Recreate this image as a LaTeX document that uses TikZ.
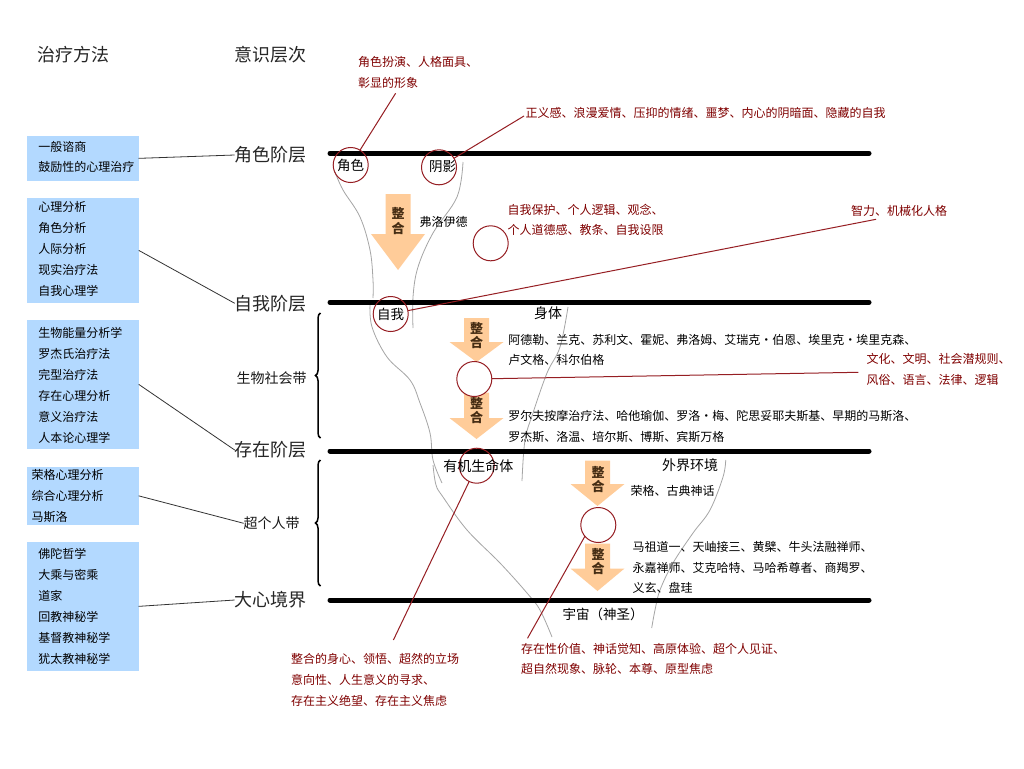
\documentclass[tikz,border=0pt]{standalone}
\usepackage{fontspec}
\setmainfont{Noto Sans CJK SC}
\usetikzlibrary{decorations.pathreplacing}
\definecolor{boxblue}{RGB}{179,217,255}
\definecolor{dred}{RGB}{128,0,0}
\definecolor{lred}{RGB}{150,30,35}
\definecolor{peach}{RGB}{255,204,153}
\definecolor{curvegray}{RGB}{165,165,165}
\definecolor{zhcol}{RGB}{70,45,20}
\newcommand{\zhArrow}[4]{\fill[peach] (#1-12.5,#2) -- (#1+12.5,#2) -- (#1+12.5,#3) -- (#1+27,#3) -- (#1,#4) -- (#1-27,#3) -- (#1-12.5,#3) -- cycle;}
\tikzset{
  every node/.style={inner sep=0pt, outer sep=0pt},
  head/.style={font=\fontsize{18pt}{22pt}\selectfont, text=black!85},
  band/.style={font=\fontsize{14pt}{17pt}\selectfont, text=black!90},
  boxbg/.style={fill=boxblue, draw=none, minimum width=111.4pt, anchor=north west},
  boxtxt/.style={anchor=west, align=left, font=\fontsize{12pt}{21pt}\selectfont},
  body/.style={anchor=west, align=left, font=\fontsize{12pt}{20.5pt}\selectfont},
  redtxt/.style={anchor=west, align=left, text=dred, font=\fontsize{12pt}{20.7pt}\selectfont},
  circ/.style={circle, draw=lred, line width=1pt, minimum size=35pt, font=\fontsize{13.5pt}{16pt}\selectfont},
  lbl/.style={font=\fontsize{14pt}{17pt}\selectfont},
  lblsm/.style={font=\fontsize{13.5pt}{16pt}\selectfont},
  zh/.style={align=center, font=\bfseries\fontsize{13pt}{14pt}\selectfont, text=zhcol},
  bar/.style={line width=5pt, line cap=round},
  conn/.style={draw=black!80, line width=0.8pt},
  redline/.style={draw=lred, line width=1pt},
  curve/.style={draw=curvegray, line width=0.8pt},
  brc/.style={decorate, decoration={brace, amplitude=5pt}, line width=1.5pt}
}
\begin{document}
\begin{tikzpicture}[x=1pt,y=-1pt]
\useasboundingbox (0,0) rectangle (1024,768);
\fill[white] (0,0) rectangle (1024,768);

% headings
\node[head] (hT) at (73,55) {治疗方法};
\node[head] (hC) at (270.7,55) {意识层次};
\node[head] (h1) at (270.7,155) {角色阶层};
\node[head] (h2) at (270.7,303.3) {自我阶层};
\node[head] (h3) at (270.7,450) {存在阶层};
\node[head] (h4) at (270.7,600) {大心境界};
\node[band] (bd1) at (271.7,377.7) {生物社会带};
\node[band] (bd2) at (271.7,523.3) {超个人带};

% boxes
\node[boxbg, minimum height=44.7pt] (b1) at (27.3,136) {};
\node[boxtxt, font=\fontsize{12pt}{20pt}\selectfont] (b1t) at (38.3,156.7) {一般谘商\\鼓励性的心理治疗};
\node[boxbg, minimum height=104.7pt] (b2) at (27.3,198) {};
\node[boxtxt] (b2t) at (38.3,249.2) {心理分析\\角色分析\\人际分析\\现实治疗法\\自我心理学};
\node[boxbg, minimum height=128.7pt] (b3) at (27.3,320) {};
\node[boxtxt] (b3t) at (38.3,385.5) {生物能量分析学\\罗杰氏治疗法\\完型治疗法\\存在心理分析\\意义治疗法\\人本论心理学};
\node[boxbg, minimum height=57.7pt] (b4) at (27.3,467) {};
\node[boxtxt, font=\fontsize{12pt}{20.7pt}\selectfont] (b4t) at (31.7,496) {荣格心理分析\\综合心理分析\\马斯洛};
\node[boxbg, minimum height=128.7pt] (b5) at (27.3,542) {};
\node[boxtxt] (b5t) at (38.3,606.3) {佛陀哲学\\大乘与密乘\\道家\\回教神秘学\\基督教神秘学\\犹太教神秘学};

\draw[conn] (b1.east) -- (h1.west);
\draw[conn] (b2.east) -- (h2.west);
\draw[conn] (b3.east) -- (h3.west);
\draw[conn] (b4.east) -- (bd2.west);
\draw[conn] (b5.east) -- (h4.west);

% braces
\draw[brc] (320.5,438) -- (320.5,313);
\draw[brc] (320.5,586) -- (320.5,460);

% gray curves
\draw[curve] plot[smooth, tension=0.6] coordinates {(335,172) (343,190) (360,217) (370,250) (373,280) (373,298)};
\draw[curve] plot[smooth, tension=0.6] coordinates {(463,162) (457,197) (433,233) (418,267) (413,297) (413,328)};
\draw[curve] plot[smooth, tension=0.6] coordinates {(370,303) (372,327) (387,357) (410,380) (420,403) (430,433) (433,460) (442,483)};
\draw[curve] plot[smooth, tension=0.6] coordinates {(568,307) (560,347) (547,373) (533,413) (525,440) (522,481)};
\draw[curve] plot[smooth, tension=0.6] coordinates {(433,465) (436,485) (443,497) (467,530) (500,563) (527,593) (540,610) (552,637)};
\draw[curve] plot[smooth, tension=0.6] coordinates {(725.7,460) (723,477) (710,510) (693,533) (673,563) (660,590) (655,610) (651.7,628)};

% thick level lines
\draw[bar] (330,153.3) -- (869,153.3);
\draw[bar] (330,302.3) -- (869,302.3);
\draw[bar] (330,451) -- (869,451);
\draw[bar] (330,600) -- (869,600);

% integration arrows
\zhArrow{398}{194}{234}{270}
\zhArrow{476.5}{318}{342}{362}
\zhArrow{476.5}{392.5}{418}{439}
\zhArrow{597.5}{460.5}{484}{506}
\zhArrow{597.5}{543.5}{568.5}{591}
\node[zh, font=\bfseries\fontsize{13pt}{15pt}\selectfont] (z1) at (398,220.8) {整\\合};
\node[zh] (z2) at (476.5,336) {整\\合};
\node[zh] (z3) at (476.5,411) {整\\合};
\node[zh] (z4) at (598,479.5) {整\\合};
\node[zh] (z5) at (598,562) {整\\合};

% circles
\node[circ] (cJ) at (350.7,165) {角色};
\node[circ] (cY) at (439,167.3) {};
\node[lblsm] (cYt) at (442.7,166.7) {阴影};
\node[circ] (cU) at (490.7,243.3) {};
\node[circ] (cZ) at (390.7,314) {自我};
\node[circ, fill=white] (cM) at (474.3,379) {};
\node[circ] (cO) at (476.7,465.7) {};
\node[lbl] (cOt) at (478.3,465.7) {有机生命体};
\node[circ] (cL) at (598.3,525) {};

% other labels
\node[lbl] (sT) at (548,313) {身体};
\node[lbl] (wJ) at (690,465) {外界环境};
\node[lblsm, anchor=west] (yZ) at (562.7,614) {宇宙（神圣）};

% black body texts
\node[body] (fl) at (419.6,221.7) {弗洛伊德};
\node[body] (adl) at (508.4,349.7) {阿德勒、兰克、苏利文、霍妮、弗洛姆、艾瑞克・伯恩、埃里克・埃里克森、\\卢文格、科尔伯格};
\node[body] (rolf) at (508.4,426.7) {罗尔夫按摩治疗法、哈他瑜伽、罗洛・梅、陀思妥耶夫斯基、早期的马斯洛、\\罗杰斯、洛温、培尔斯、博斯、宾斯万格};
\node[body] (rg) at (630.7,490.7) {荣格、古典神话};
\node[body] (mz) at (632.7,567.5) {马祖道一、天岫接三、黄檗、牛头法融禅师、\\永嘉禅师、艾克哈特、马哈希尊者、商羯罗、\\义玄、盘珪};

% red texts
\node[redtxt] (r1) at (358,72.2) {角色扮演、人格面具、\\彰显的形象};
\node[redtxt] (r2) at (525.5,113.3) {正义感、浪漫爱情、压抑的情绪、噩梦、内心的阴暗面、隐藏的自我};
\node[redtxt] (r3) at (507.5,220) {自我保护、个人逻辑、观念、\\个人道德感、教条、自我设限};
\node[redtxt] (r4) at (851,210.7) {智力、机械化人格};
\node[redtxt] (r5) at (866.7,369.7) {文化、文明、社会潜规则、\\风俗、语言、法律、逻辑};
\node[redtxt] (r6) at (291,680) {整合的身心、领悟、超然的立场\\意向性、人生意义的寻求、\\存在主义绝望、存在主义焦虑};
\node[redtxt] (r7) at (521,659) {存在性价值、神话觉知、高原体验、超个人见证、\\超自然现象、脉轮、本尊、原型焦虑};

% red leader lines
\coordinate (e1) at (395.6,93.3);
\coordinate (e2) at (524,116);
\coordinate (e3) at (876,219.3);
\coordinate (e4) at (858.3,372.3);
\coordinate (e5) at (393.4,640);
\coordinate (e6) at (527.5,638.3);
\draw[redline] (cJ) -- (e1);
\draw[redline] (cY) -- (e2);
\draw[redline] (cZ) -- (e3);
\draw[redline] (cM) -- (e4);
\draw[redline] (cO) -- (e5);
\draw[redline] (cL.220) -- (e6);
\end{tikzpicture}
\end{document}
